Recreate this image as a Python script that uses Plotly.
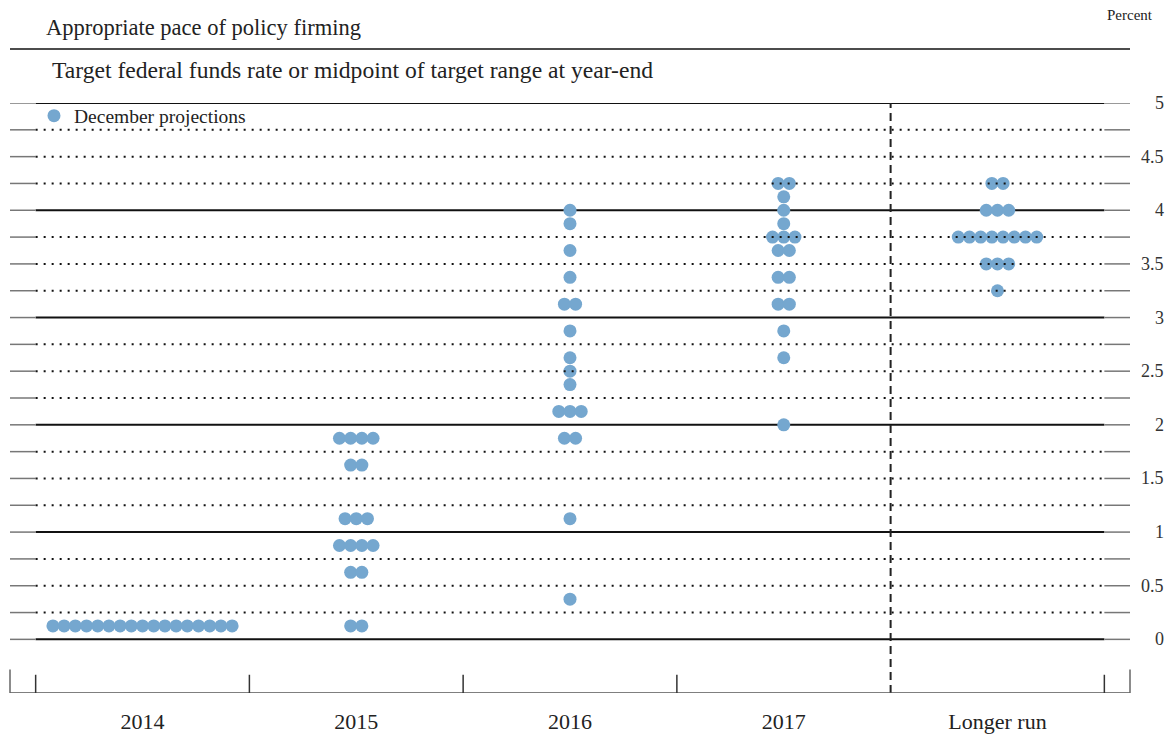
import plotly.graph_objects as go

# ---------------- data ----------------
categories = ["2014", "2015", "2016", "2017", "Longer run"]

levels_2014 = [0.125]
counts_2014 = [17]

levels_2015 = [0.125, 0.625, 0.875, 1.125, 1.625, 1.875]
counts_2015 = [2, 2, 4, 3, 2, 4]

levels_2016 = [0.375, 1.125, 1.875, 2.125, 2.375, 2.5, 2.625, 2.875, 3.125, 3.375, 3.625, 3.875, 4.0]
counts_2016 = [1, 1, 2, 3, 1, 1, 1, 1, 2, 1, 1, 1, 1]

levels_2017 = [2.0, 2.625, 2.875, 3.125, 3.375, 3.625, 3.75, 3.875, 4.0, 4.125, 4.25]
counts_2017 = [1, 1, 1, 2, 2, 2, 3, 1, 1, 1, 2]

levels_longer = [3.25, 3.5, 3.75, 4.0, 4.25]
counts_longer = [1, 3, 8, 3, 2]

grid_levels = [i * 0.25 for i in range(21)]
ytick_vals = [0, 0.5, 1, 1.5, 2, 2.5, 3, 3.5, 4, 4.5, 5]
ytick_text = ["0", "0.5", "1", "1.5", "2", "2.5", "3", "3.5", "4", "4.5", "5"]

title_text = "Appropriate pace of policy firming"
subtitle_text = "Target federal funds rate or midpoint of target range at year-end"
legend_text = "December projections"
unit_text = "Percent"

# ---------------- layout constants ----------------
W, H = 1167, 738
ML, MR, MT, MB = 10, 37, 103, 45
PW, PH = W - ML - MR, H - MT - MB
XR = [-0.62, 4.62]
YR = [-0.5, 5.0]
FONT = "Liberation Serif"
DOT = "#75A7CF"
SPACING = 11.2 / (PW / (XR[1] - XR[0]))  # horizontal dot spacing in data units


def px_x(px):
    return (px - ML) / PW


def px_y(py):
    return 1 - (py - MT) / PH


groups = [
    (levels_2014, counts_2014),
    (levels_2015, counts_2015),
    (levels_2016, counts_2016),
    (levels_2017, counts_2017),
    (levels_longer, counts_longer),
]

xs, ys = [], []
for ci, (lv, cn) in enumerate(groups):
    for v, n in zip(lv, cn):
        for k in range(n):
            xs.append(ci + (k - (n - 1) / 2) * SPACING)
            ys.append(v)

fig = go.Figure()
fig.add_trace(go.Scatter(
    x=xs, y=ys, mode="markers", name=legend_text,
    marker=dict(size=13, color=DOT, line=dict(width=0)),
    showlegend=True, hoverinfo="y",
))

shapes = []
for lvl in grid_levels:
    solid = abs(lvl - round(lvl)) < 1e-9
    if solid:
        shapes.append(dict(type="line", xref="x", yref="y", x0=-0.5, x1=4.5, y0=lvl, y1=lvl,
                           line=dict(color="#111111", width=2), layer="below"))
    else:
        shapes.append(dict(type="line", xref="x", yref="y", x0=-0.5, x1=4.5, y0=lvl, y1=lvl,
                           line=dict(color="#111111", width=2, dash="2px,6px"), layer="above"))
    # side ticks
    for a, b in ((XR[0], -0.5), (4.5, XR[1])):
        shapes.append(dict(type="line", xref="x", yref="y", x0=a, x1=b, y0=lvl, y1=lvl,
                           line=dict(color="#777777", width=1.5), layer="below"))

# rule under title
shapes.append(dict(type="line", xref="paper", yref="paper", x0=0, x1=1, y0=px_y(49), y1=px_y(49),
                   line=dict(color="#111111", width=1.5)))
# dashed separator before longer run
shapes.append(dict(type="line", xref="x", yref="y", x0=3.5, x1=3.5, y0=YR[0], y1=YR[1],
                   line=dict(color="#222222", width=2, dash="8px,5px"), layer="above"))
# bottom axis
shapes.append(dict(type="line", xref="paper", yref="y", x0=0, x1=1, y0=YR[0], y1=YR[0],
                   line=dict(color="#555555", width=1.5)))
for xb in (-0.5, 0.5, 1.5, 2.5, 4.5):
    shapes.append(dict(type="line", xref="x", yref="y", x0=xb, x1=xb, y0=YR[0], y1=YR[0] + 0.17,
                       line=dict(color="#333333", width=1.5)))
for xp in (0, 1):
    shapes.append(dict(type="line", xref="paper", yref="y", x0=xp, x1=xp, y0=YR[0], y1=YR[0] + 0.22,
                       line=dict(color="#666666", width=1.5)))

annotations = [
    dict(text=title_text, xref="paper", yref="paper", x=px_x(44), y=px_y(28),
         xanchor="left", yanchor="middle", showarrow=False, font=dict(family=FONT, size=22.5, color="#222")),
    dict(text=subtitle_text, xref="paper", yref="paper", x=px_x(50), y=px_y(70),
         xanchor="left", yanchor="middle", showarrow=False, font=dict(family=FONT, size=23.6, color="#222")),
    dict(text=unit_text, xref="paper", yref="paper", x=px_x(1155), y=px_y(15),
         xanchor="right", yanchor="middle", showarrow=False, font=dict(family=FONT, size=15, color="#222")),
]
for v, t in zip(ytick_vals, ytick_text):
    annotations.append(dict(text=t, xref="paper", yref="y", x=px_x(1166), y=v,
                            xanchor="right", yanchor="middle", showarrow=False,
                            font=dict(family=FONT, size=18, color="#333")))

fig.update_layout(
    width=W, height=H,
    margin=dict(l=ML, r=MR, t=MT, b=MB, pad=0, autoexpand=False),
    paper_bgcolor="white", plot_bgcolor="white",
    font=dict(family=FONT, color="#222"),
    xaxis=dict(range=XR, showgrid=False, zeroline=False, showline=False,
               tickvals=[0, 1, 2, 3, 4], ticktext=categories, ticks="",
               tickfont=dict(family=FONT, size=22, color="#222"), ticklabelstandoff=13,
               automargin=False, fixedrange=True),
    yaxis=dict(range=YR, showgrid=False, zeroline=False, showline=False,
               showticklabels=False, ticks="", automargin=False, fixedrange=True),
    showlegend=True,
    legend=dict(x=px_x(34), y=px_y(116), xanchor="left", yanchor="middle",
                bgcolor="rgba(0,0,0,0)", borderwidth=0,
                font=dict(family=FONT, size=19.5, color="#222"), itemclick=False),
    shapes=shapes, annotations=annotations,
)

fig.write_html("out.html", config={"displayModeBar": False},
               post_script="document.body.style.margin='0';document.body.style.overflow='hidden';")
